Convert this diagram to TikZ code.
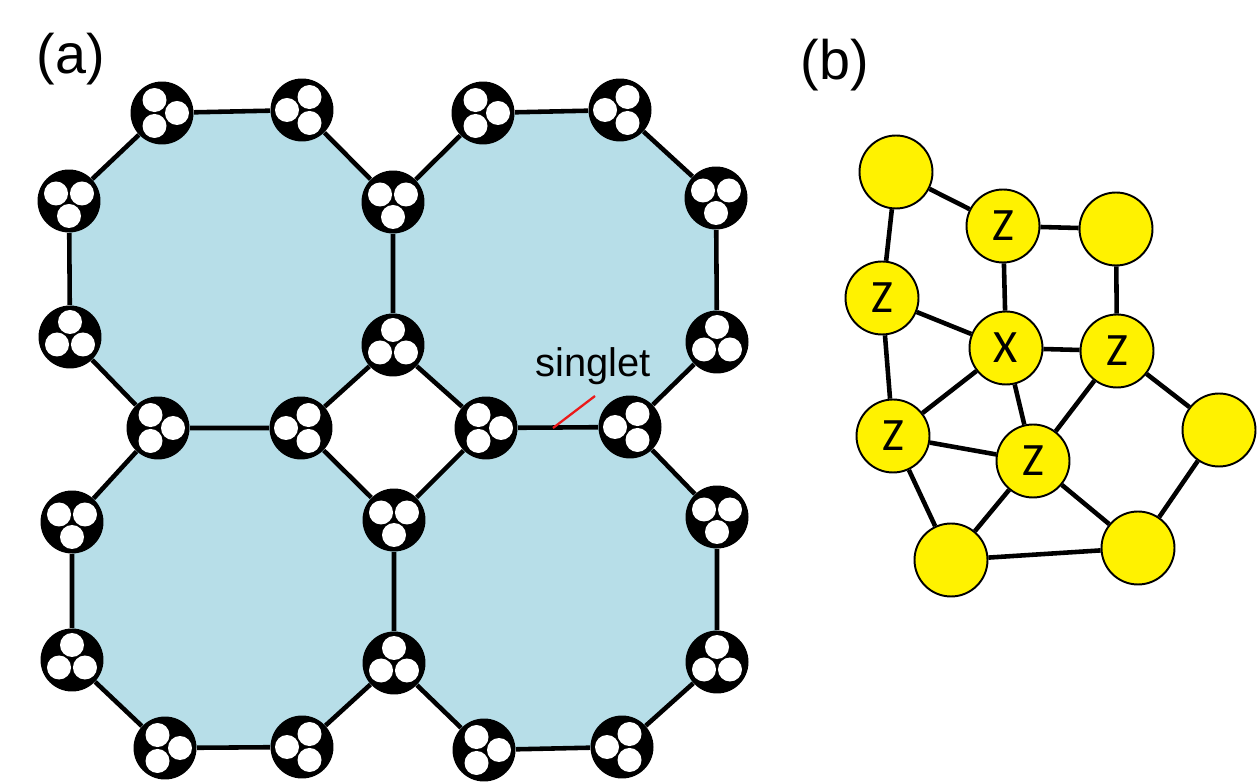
\documentclass[tikz,border=0pt]{standalone}
\usepackage{fontspec}
\setmainfont{Liberation Sans}
\newfontfamily\zfont{Carlito}
\usetikzlibrary{backgrounds}
\definecolor{octblue}{RGB}{183,222,232}
\definecolor{bondred}{RGB}{235,25,25}

\begin{document}
\begin{tikzpicture}[x=0.02cm,y=-0.02cm,
  site/.style={circle,fill=black,minimum size=1.26cm,inner sep=0pt},
  spin/.style={circle,fill=yellow,draw=black,line width=1.1pt,minimum size=1.46cm,inner sep=0pt,font=\zfont\fontsize{26.4}{30}\selectfont},
  bond/.style={line width=2.6pt}]
\useasboundingbox (0,0) rectangle (1258,783);

% panel labels
\node[anchor=base,inner sep=0pt,font=\fontsize{31.7}{38}\selectfont] (lbla) at (71,74) {(a)};
\node[anchor=base,inner sep=0pt,font=\fontsize{31.7}{38}\selectfont] (lblb) at (835,80) {(b)};

% (a) sites
\foreach \n/\x/\y in {t1/162/113, t2/302/110, t3/483/113, t4/620/110,
  u1/69/201, u2/393/202, u3/716/198,
  v1/70/337, v2/393/345, v3/717/342,
  w1/158/428, w2/301/428, w3/486/428, w4/630/427,
  x1/72/522, x2/394/520, x3/717/517,
  y1/72/660, y2/394/663, y3/717/662,
  z1/165/748, z2/302/747, z3/484/750, z4/622/747}
  \node[site] (\n) at (\x,\y) {};

% three spins in every site, one pointing to the partner
\foreach \n/\a in {t1/0, t2/180, t3/0, t4/180, w1/0, w2/180, w3/0, w4/180,
  z1/0, z2/180, z3/0, z4/180, u1/90, u2/90, u3/90, x1/90, x2/90, x3/90,
  v1/270, v2/270, v3/270, y1/270, y2/270, y3/270}
  \foreach \k in {0,120,240}
    \fill[white] (\n.center) ++(\a+\k:15) circle (12);

\begin{scope}[on background layer]
\fill[octblue] (t1.center)--(t2.center)--(u2.center)--(v2.center)--(w2.center)--(w1.center)--(v1.center)--(u1.center)--cycle;
\fill[octblue] (t3.center)--(t4.center)--(u3.center)--(v3.center)--(w4.center)--(w3.center)--(v2.center)--(u2.center)--cycle;
\fill[octblue] (w1.center)--(w2.center)--(x2.center)--(y2.center)--(z2.center)--(z1.center)--(y1.center)--(x1.center)--cycle;
\fill[octblue] (w3.center)--(w4.center)--(x3.center)--(y3.center)--(z4.center)--(z3.center)--(y2.center)--(x2.center)--cycle;
\end{scope}

\draw[bond] (t1)--(t2)--(u2)--(v2)--(w2)--(w1)--(v1)--(u1)--(t1);
\draw[bond] (u2)--(t3)--(t4)--(u3)--(v3)--(w4)--(w3)--(v2);
\draw[bond] (w2)--(x2)--(y2)--(z2)--(z1)--(y1)--(x1)--(w1);
\draw[bond] (w4)--(x3)--(y3)--(z4)--(z3)--(y2);
\draw[bond] (x2)--(w3);

% singlet marker
\node[anchor=base,inner sep=0pt,font=\fontsize{22.7}{27}\selectfont] (singlet) at (593,377) {singlet};
\coordinate (sgl) at (553,428);
\coordinate (sgltip) at (595,396);
\draw[bondred,line width=1.3pt] (sgl)--(sgltip);

% (b) cluster
\node[spin] (b1) at (896,172) {};
\node[spin] (bz1) at (1003,226) {Z};
\node[spin] (b2) at (1116,229) {};
\node[spin] (bz2) at (882,298) {Z};
\node[spin] (bx) at (1006,348) {X};
\node[spin] (bz3) at (1117,351) {Z};
\node[spin] (bz4) at (893,436) {Z};
\node[spin] (bz5) at (1033,461) {Z};
\node[spin] (b3) at (1219,430) {};
\node[spin] (b4) at (951,560) {};
\node[spin] (b5) at (1138,548) {};

\draw[bond] (b1)--(bz1)--(b2)--(bz3)--(b3)--(b5)--(b4)--(bz4)--(bz2)--(b1);
\draw[bond] (bz1)--(bx)--(bz3)--(bz5)--(bz4)--(bx)--(bz2);
\draw[bond] (bx)--(bz5)--(b4);
\draw[bond] (bz5)--(b5);
\end{tikzpicture}
\end{document}
